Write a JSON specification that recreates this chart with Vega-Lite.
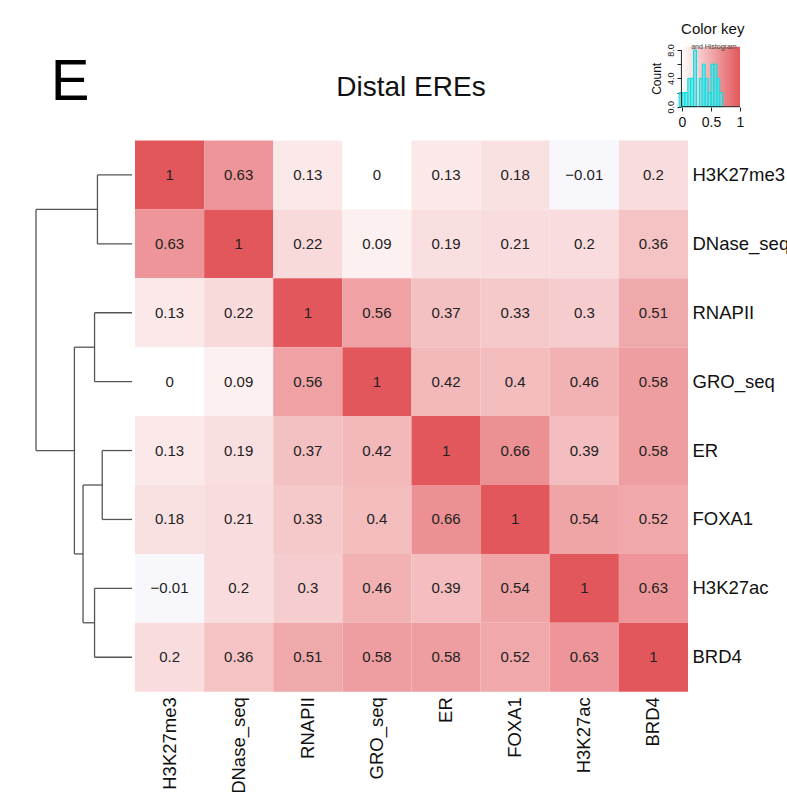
{
  "$schema": "https://vega.github.io/schema/vega-lite/v6.json",
  "width": 787,
  "height": 792,
  "autosize": {"type": "none"},
  "padding": 0,
  "background": "white",
  "config": {"view": {"stroke": null}, "font": "Liberation Sans"},
  "datasets": {
    "m": [
      {"r": "H3K27me3", "c": "H3K27me3", "v": 1}, {"r": "H3K27me3", "c": "DNase_seq", "v": 0.63}, {"r": "H3K27me3", "c": "RNAPII", "v": 0.13}, {"r": "H3K27me3", "c": "GRO_seq", "v": 0}, {"r": "H3K27me3", "c": "ER", "v": 0.13}, {"r": "H3K27me3", "c": "FOXA1", "v": 0.18}, {"r": "H3K27me3", "c": "H3K27ac", "v": -0.01}, {"r": "H3K27me3", "c": "BRD4", "v": 0.2},
      {"r": "DNase_seq", "c": "H3K27me3", "v": 0.63}, {"r": "DNase_seq", "c": "DNase_seq", "v": 1}, {"r": "DNase_seq", "c": "RNAPII", "v": 0.22}, {"r": "DNase_seq", "c": "GRO_seq", "v": 0.09}, {"r": "DNase_seq", "c": "ER", "v": 0.19}, {"r": "DNase_seq", "c": "FOXA1", "v": 0.21}, {"r": "DNase_seq", "c": "H3K27ac", "v": 0.2}, {"r": "DNase_seq", "c": "BRD4", "v": 0.36},
      {"r": "RNAPII", "c": "H3K27me3", "v": 0.13}, {"r": "RNAPII", "c": "DNase_seq", "v": 0.22}, {"r": "RNAPII", "c": "RNAPII", "v": 1}, {"r": "RNAPII", "c": "GRO_seq", "v": 0.56}, {"r": "RNAPII", "c": "ER", "v": 0.37}, {"r": "RNAPII", "c": "FOXA1", "v": 0.33}, {"r": "RNAPII", "c": "H3K27ac", "v": 0.3}, {"r": "RNAPII", "c": "BRD4", "v": 0.51},
      {"r": "GRO_seq", "c": "H3K27me3", "v": 0}, {"r": "GRO_seq", "c": "DNase_seq", "v": 0.09}, {"r": "GRO_seq", "c": "RNAPII", "v": 0.56}, {"r": "GRO_seq", "c": "GRO_seq", "v": 1}, {"r": "GRO_seq", "c": "ER", "v": 0.42}, {"r": "GRO_seq", "c": "FOXA1", "v": 0.4}, {"r": "GRO_seq", "c": "H3K27ac", "v": 0.46}, {"r": "GRO_seq", "c": "BRD4", "v": 0.58},
      {"r": "ER", "c": "H3K27me3", "v": 0.13}, {"r": "ER", "c": "DNase_seq", "v": 0.19}, {"r": "ER", "c": "RNAPII", "v": 0.37}, {"r": "ER", "c": "GRO_seq", "v": 0.42}, {"r": "ER", "c": "ER", "v": 1}, {"r": "ER", "c": "FOXA1", "v": 0.66}, {"r": "ER", "c": "H3K27ac", "v": 0.39}, {"r": "ER", "c": "BRD4", "v": 0.58},
      {"r": "FOXA1", "c": "H3K27me3", "v": 0.18}, {"r": "FOXA1", "c": "DNase_seq", "v": 0.21}, {"r": "FOXA1", "c": "RNAPII", "v": 0.33}, {"r": "FOXA1", "c": "GRO_seq", "v": 0.4}, {"r": "FOXA1", "c": "ER", "v": 0.66}, {"r": "FOXA1", "c": "FOXA1", "v": 1}, {"r": "FOXA1", "c": "H3K27ac", "v": 0.54}, {"r": "FOXA1", "c": "BRD4", "v": 0.52},
      {"r": "H3K27ac", "c": "H3K27me3", "v": -0.01}, {"r": "H3K27ac", "c": "DNase_seq", "v": 0.2}, {"r": "H3K27ac", "c": "RNAPII", "v": 0.3}, {"r": "H3K27ac", "c": "GRO_seq", "v": 0.46}, {"r": "H3K27ac", "c": "ER", "v": 0.39}, {"r": "H3K27ac", "c": "FOXA1", "v": 0.54}, {"r": "H3K27ac", "c": "H3K27ac", "v": 1}, {"r": "H3K27ac", "c": "BRD4", "v": 0.63},
      {"r": "BRD4", "c": "H3K27me3", "v": 0.2}, {"r": "BRD4", "c": "DNase_seq", "v": 0.36}, {"r": "BRD4", "c": "RNAPII", "v": 0.51}, {"r": "BRD4", "c": "GRO_seq", "v": 0.58}, {"r": "BRD4", "c": "ER", "v": 0.58}, {"r": "BRD4", "c": "FOXA1", "v": 0.52}, {"r": "BRD4", "c": "H3K27ac", "v": 0.63}, {"r": "BRD4", "c": "BRD4", "v": 1}
    ],
    "tree": [
      {"h1": 0, "h2": 0.36, "p1": 0.5, "p2": 0.5},
      {"h1": 0, "h2": 0.36, "p1": 1.5, "p2": 1.5},
      {"h1": 0, "h2": 0.39, "p1": 2.5, "p2": 2.5},
      {"h1": 0, "h2": 0.39, "p1": 3.5, "p2": 3.5},
      {"h1": 0, "h2": 0.31, "p1": 4.5, "p2": 4.5},
      {"h1": 0, "h2": 0.31, "p1": 5.5, "p2": 5.5},
      {"h1": 0, "h2": 0.39, "p1": 6.5, "p2": 6.5},
      {"h1": 0, "h2": 0.39, "p1": 7.5, "p2": 7.5},
      {"h1": 0.36, "h2": 0.36, "p1": 0.5, "p2": 1.5},
      {"h1": 0.39, "h2": 0.39, "p1": 2.5, "p2": 3.5},
      {"h1": 0.31, "h2": 0.31, "p1": 4.5, "p2": 5.5},
      {"h1": 0.39, "h2": 0.39, "p1": 6.5, "p2": 7.5},
      {"h1": 0.51, "h2": 0.51, "p1": 5, "p2": 7},
      {"h1": 0.6, "h2": 0.6, "p1": 3, "p2": 6},
      {"h1": 1, "h2": 1, "p1": 1, "p2": 4.5},
      {"h1": 0.31, "h2": 0.51, "p1": 5, "p2": 5},
      {"h1": 0.39, "h2": 0.51, "p1": 7, "p2": 7},
      {"h1": 0.39, "h2": 0.6, "p1": 3, "p2": 3},
      {"h1": 0.51, "h2": 0.6, "p1": 6, "p2": 6},
      {"h1": 0.36, "h2": 1, "p1": 1, "p2": 1},
      {"h1": 0.6, "h2": 1, "p1": 4.5, "p2": 4.5}
    ]
  },
  "resolve": {
    "scale": {"x": "independent", "y": "independent", "color": "independent"},
    "axis": {"x": "independent", "y": "independent"}
  },
  "layer": [
    {
      "data": {"name": "m"},
      "encoding": {
        "x": {
          "field": "c", "type": "nominal",
          "scale": {"domain": ["H3K27me3", "DNase_seq", "RNAPII", "GRO_seq", "ER", "FOXA1", "H3K27ac", "BRD4"], "range": [135, 688], "paddingInner": 0, "paddingOuter": 0, "round": false},
          "axis": {"orient": "bottom", "offset": -100.3, "title": null, "domain": false, "ticks": false, "grid": false, "labelAngle": 270, "labelAlign": "right", "labelBaseline": "middle", "labelFontSize": 18.5, "labelPadding": 5, "labelColor": "#111", "labelLimit": 300}
        },
        "y": {
          "field": "r", "type": "nominal",
          "scale": {"domain": ["H3K27me3", "DNase_seq", "RNAPII", "GRO_seq", "ER", "FOXA1", "H3K27ac", "BRD4"], "range": [140.5, 691.7], "paddingInner": 0, "paddingOuter": 0, "round": false},
          "axis": {"orient": "right", "offset": -99, "title": null, "domain": false, "ticks": false, "grid": false, "labelAlign": "left", "labelBaseline": "middle", "labelFontSize": 18.5, "labelPadding": 4, "labelColor": "#111", "labelLimit": 300}
        }
      },
      "layer": [
        {
          "mark": {"type": "rect"},
          "encoding": {
            "color": {"field": "v", "type": "quantitative", "scale": {"domain": [-0.01, 0, 1], "range": ["#f7f7fc", "#ffffff", "#e2575b"], "interpolate": "rgb"}, "legend": null}
          }
        },
        {
          "mark": {"type": "text", "fontSize": 15, "color": "#222", "align": "center", "baseline": "middle"},
          "encoding": {"text": {"field": "v", "type": "quantitative", "format": ".2~f"}}
        }
      ]
    },
    {
      "layer": [
        {
          "data": {"name": "tree"},
          "mark": {"type": "rule", "color": "#555", "strokeWidth": 1.3},
          "encoding": {
            "x": {"field": "h1", "type": "quantitative", "scale": {"domain": [0, 1], "range": [132, 36], "nice": false, "zero": false}, "axis": null},
            "x2": {"field": "h2"},
            "y": {"field": "p1", "type": "quantitative", "scale": {"domain": [0, 8], "range": [140.5, 691.7], "nice": false, "zero": false}, "axis": null},
            "y2": {"field": "p2"}
          }
        },
        {
          "data": {"values": [{"t": "E"}]},
          "mark": {"type": "text", "fontSize": 58, "color": "#000", "align": "center", "baseline": "middle"},
          "encoding": {
            "x": {"datum": 0.645, "type": "quantitative", "scale": {"domain": [0, 1], "range": [132, 36], "nice": false, "zero": false}, "axis": null},
            "y": {"datum": -0.834, "type": "quantitative", "scale": {"domain": [0, 8], "range": [140.5, 691.7], "nice": false, "zero": false}, "axis": null},
            "text": {"field": "t"}
          }
        },
        {
          "data": {"values": [{"t": "Distal EREs"}]},
          "mark": {"type": "text", "fontSize": 28, "color": "#111", "align": "center", "baseline": "middle"},
          "encoding": {
            "x": {"datum": -2.906, "type": "quantitative", "scale": {"domain": [0, 1], "range": [132, 36], "nice": false, "zero": false}, "axis": null},
            "y": {"datum": -0.762, "type": "quantitative", "scale": {"domain": [0, 8], "range": [140.5, 691.7], "nice": false, "zero": false}, "axis": null},
            "text": {"field": "t"}
          }
        }
      ]
    },
    {
      "layer": [
        {
          "data": {"values": [{}]},
          "mark": {"type": "rect", "fill": {"gradient": "linear", "x1": 0, "y1": 0, "x2": 1, "y2": 0, "stops": [{"offset": 0, "color": "#ffffff"}, {"offset": 1, "color": "#e2575b"}]}},
          "encoding": {
            "x": {"datum": -0.01, "type": "quantitative", "scale": {"domain": [0, 1], "range": [682, 740], "nice": false, "zero": false},
              "axis": {"orient": "bottom", "offset": -685, "values": [0, 0.5, 1], "format": "~g", "domain": false, "grid": false, "tickSize": 4, "tickColor": "#222", "labelFontSize": 14, "labelColor": "#111", "labelPadding": 4, "title": null, "labelFlush": false, "labelOverlap": false}},
            "x2": {"datum": 1},
            "y": {"datum": 0, "type": "quantitative", "scale": {"domain": [0, 8], "range": [106.7, 50], "nice": false, "zero": false},
              "axis": {"orient": "left", "offset": -681, "values": [0, 2, 4, 6, 8], "labelExpr": "datum.value % 4 === 0 ? datum.label : ''", "labelAngle": 270, "labelAlign": "center", "labelBaseline": "bottom", "labelFontSize": 9, "labelPadding": 2, "tickSize": 4, "tickColor": "#222", "domain": false, "grid": false, "title": "Count", "titleFontSize": 12, "titleFontWeight": "normal", "titlePadding": 3, "titleColor": "#111", "labelColor": "#111"}},
            "y2": {"datum": 8.45}
          }
        },
        {
          "data": {"name": "m"},
          "transform": [
            {"filter": "datum.v < 1"},
            {"bin": {"step": 0.05, "extent": [-0.05, 1]}, "field": "v", "as": ["b0", "b1"]},
            {"aggregate": [{"op": "count", "as": "n"}], "groupby": ["b0", "b1"]}
          ],
          "mark": {"type": "rect", "fill": "#5fe0e0", "fillOpacity": 0.75, "stroke": "#00e0e8", "strokeWidth": 1},
          "encoding": {
            "x": {"field": "b0", "type": "quantitative", "scale": {"domain": [0, 1], "range": [682, 740], "nice": false, "zero": false}},
            "x2": {"field": "b1"},
            "y": {"field": "n", "type": "quantitative", "scale": {"domain": [0, 8], "range": [106.7, 50], "nice": false, "zero": false}},
            "y2": {"datum": 0}
          }
        },
        {
          "data": {"values": [{}]},
          "mark": {"type": "rule", "color": "#222", "strokeWidth": 1},
          "encoding": {
            "x": {"datum": -0.01, "type": "quantitative", "scale": {"domain": [0, 1], "range": [682, 740], "nice": false, "zero": false}},
            "y": {"datum": 0, "type": "quantitative", "scale": {"domain": [0, 8], "range": [106.7, 50], "nice": false, "zero": false}},
            "y2": {"datum": 8}
          }
        },
        {
          "data": {"values": [{}]},
          "mark": {"type": "rule", "color": "#222", "strokeWidth": 1},
          "encoding": {
            "x": {"datum": 0, "type": "quantitative", "scale": {"domain": [0, 1], "range": [682, 740], "nice": false, "zero": false}},
            "x2": {"datum": 1},
            "y": {"datum": 0, "type": "quantitative", "scale": {"domain": [0, 8], "range": [106.7, 50], "nice": false, "zero": false}}
          }
        },
        {
          "data": {"values": [{"t": "Color key"}]},
          "mark": {"type": "text", "fontSize": 15, "color": "#111", "align": "center", "baseline": "middle"},
          "encoding": {
            "x": {"datum": 0.53, "type": "quantitative", "scale": {"domain": [0, 1], "range": [682, 740], "nice": false, "zero": false}},
            "y": {"datum": 10.97, "type": "quantitative", "scale": {"domain": [0, 8], "range": [106.7, 50], "nice": false, "zero": false}},
            "text": {"field": "t"}
          }
        },
        {
          "data": {"values": [{"t": "and Histogram"}]},
          "mark": {"type": "text", "fontSize": 7, "color": "#444", "align": "center", "baseline": "middle"},
          "encoding": {
            "x": {"datum": 0.55, "type": "quantitative", "scale": {"domain": [0, 1], "range": [682, 740], "nice": false, "zero": false}},
            "y": {"datum": 8.45, "type": "quantitative", "scale": {"domain": [0, 8], "range": [106.7, 50], "nice": false, "zero": false}},
            "text": {"field": "t"}
          }
        }
      ]
    }
  ]
}
